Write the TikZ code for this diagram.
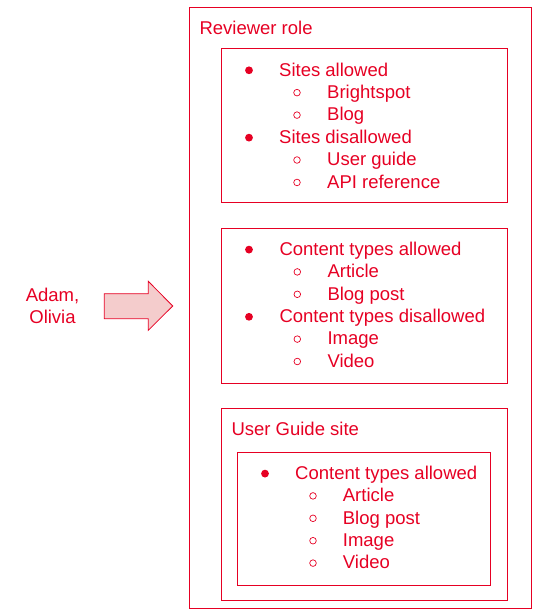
\documentclass[tikz,border=0pt]{standalone}
\usepackage{fontspec}
\setmainfont{Liberation Sans}
\usetikzlibrary{positioning}
\definecolor{rolered}{RGB}{230,0,35}
\definecolor{arrowpink}{RGB}{244,204,204}

\begin{document}
\begin{tikzpicture}[x=1pt, y=-1pt,
        box/.style={draw=rolered, line width=1pt},
        txt/.style={anchor=base west, inner sep=0pt, text=rolered, font=\fontsize{18.5}{22.6}\selectfont},
        dot/.style={circle, fill=rolered, inner sep=0pt, minimum size=7.8pt},
        ring/.style={circle, draw=rolered, line width=0.7pt, inner sep=0pt, minimum size=6.6pt}]
        \useasboundingbox (0,0) rectangle (540,616);
        % frames
        \draw[box] (189.3,7.3) rectangle (531.3,608.3);
        \draw[box] (221.3,48.7) rectangle (507.3,202.7);
        \draw[box] (221.3,228.3) rectangle (507.3,383.3);
        \draw[box] (221.7,408.3) rectangle (507.3,600.3);
        \draw[box] (237.3,452.3) rectangle (490.3,585.3);
        \node[txt] (role) at (199.3,34) {Reviewer role};
        \node[txt] (guide) at (231.3,435.7) {User Guide site};
        % users and arrow
        \node[text=rolered, align=center, inner sep=0pt, font=\fontsize{18.5}{22.7}\selectfont] (users) at (52.5,305.9) {Adam,\\Olivia};
        \draw[rolered, fill=arrowpink, line width=0.8pt] (104.3,293.7) -- (148.3,293.7) -- (148.3,281.3)
                -- (172.7,306) -- (148.3,330.3) -- (148.3,318.7) -- (104.3,318.7) -- cycle;
        % sites
        \foreach \lvl/\t [count=\i] in {1/Sites allowed, 2/Brightspot, 2/Blog, 1/Sites disallowed, 2/User guide, 2/API reference} {
                \pgfmathsetmacro\yy{76+(\i-1)*22.45}
                \ifnum\lvl=1
                        \node[dot] at (249,\yy-5.7) {};
                        \node[txt] (site-\i) at (279,\yy) {\t};
                \else
                        \node[ring] at (297,\yy-5.8) {};
                        \node[txt] (site-\i) at (327,\yy) {\t};
                \fi
        }
        % content types
        \foreach \lvl/\t [count=\i] in {1/Content types allowed, 2/Article, 2/Blog post, 1/Content types disallowed, 2/Image, 2/Video} {
                \pgfmathsetmacro\yy{255.3+(\i-1)*22.4}
                \ifnum\lvl=1
                        \node[dot] at (249,\yy-5.7) {};
                        \node[txt] (type-\i) at (279.3,\yy) {\t};
                \else
                        \node[ring] at (297.3,\yy-5.8) {};
                        \node[txt] (type-\i) at (327.3,\yy) {\t};
                \fi
        }
        % user guide types
        \foreach \lvl/\t [count=\i] in {1/Content types allowed, 2/Article, 2/Blog post, 2/Image, 2/Video} {
                \pgfmathsetmacro\yy{479.3+(\i-1)*22.4}
                \ifnum\lvl=1
                        \node[dot] at (265,\yy-5.7) {};
                        \node[txt] (guide-\i) at (295,\yy) {\t};
                \else
                        \node[ring] at (313,\yy-5.8) {};
                        \node[txt] (guide-\i) at (342.7,\yy) {\t};
                \fi
        }
\end{tikzpicture}
\end{document}
